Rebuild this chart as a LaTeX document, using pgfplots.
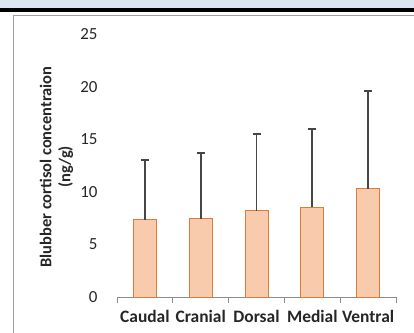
\documentclass[border=0pt]{standalone}
\usepackage{pgfplots}
\pgfplotsset{compat=1.18}
\usepackage{fontspec}
\setmainfont{Carlito}
\definecolor{barfill}{RGB}{248,203,173}
\definecolor{baredge}{RGB}{222,122,58}
\definecolor{errc}{RGB}{70,70,70}
\definecolor{axc}{RGB}{140,140,140}
\definecolor{framec}{RGB}{160,160,160}
\definecolor{strip}{RGB}{220,230,242}
\pgfplotstableread{
x y e
0 7.32 5.73
1 7.44 6.25
2 8.20 7.29
3 8.55 7.45
4 10.27 9.28
}\datatab
\begin{document}
\begin{tikzpicture}[x=1bp,y=1bp]
\useasboundingbox (0,0) rectangle (414,333);
\fill[white] (0,0) rectangle (414,333);
\fill[strip] (0,325) rectangle (414,333);
\fill[black] (0,321) rectangle (414,325);
\draw[framec, line width=0.8bp] (13,0) -- (13,318) -- (414,318);
\begin{axis}[
  at={(117bp,36bp)}, anchor=south west,
  scale only axis, width=279bp, height=263bp,
  xmin=-0.5, xmax=4.5, ymin=0, ymax=25,
  axis x line*=bottom, axis y line*=left,
  x axis line style={axc, line width=0.8bp},
  y axis line style={draw=none},
  ytick={0,5,...,25},
  ytick style={draw=none},
  xtick={-0.5,0.5,1.5,2.5,3.5,4.5},
  xticklabels={},
  xtick style={axc, line width=0.8bp},
  major tick length=6bp,
  tick align=outside,
  extra x ticks={0,1,2,3,4},
  extra x tick labels={Caudal,Cranial,Dorsal,Medial,Ventral},
  extra x tick style={major tick length=0pt, xticklabel style={font=\fontsize{17.5}{20}\selectfont\bfseries, text=black!85, yshift=-10bp}},
  /pgf/number format/assume math mode=true,
  yticklabel style={font=\fontsize{17}{20}\selectfont, text=black!85, xshift=-10bp},
  clip=false,
]
\addplot[ybar, bar width=23bp, fill=barfill, draw=baredge, line width=1bp,
  error bars/.cd, y dir=plus, y explicit,
  error bar style={draw=errc, line width=1.8bp},
  error mark options={draw=errc, line width=1.8bp, mark size=4bp, rotate=90}]
  table[x=x, y=y, y error=e] {\datatab};
\end{axis}
\node[rotate=90, align=center, text=black!85, font=\fontsize{16.5}{19}\selectfont\bfseries] at (56.5,166) {Blubber cortisol concentraion\\(ng/g)};
\end{tikzpicture}
\end{document}
